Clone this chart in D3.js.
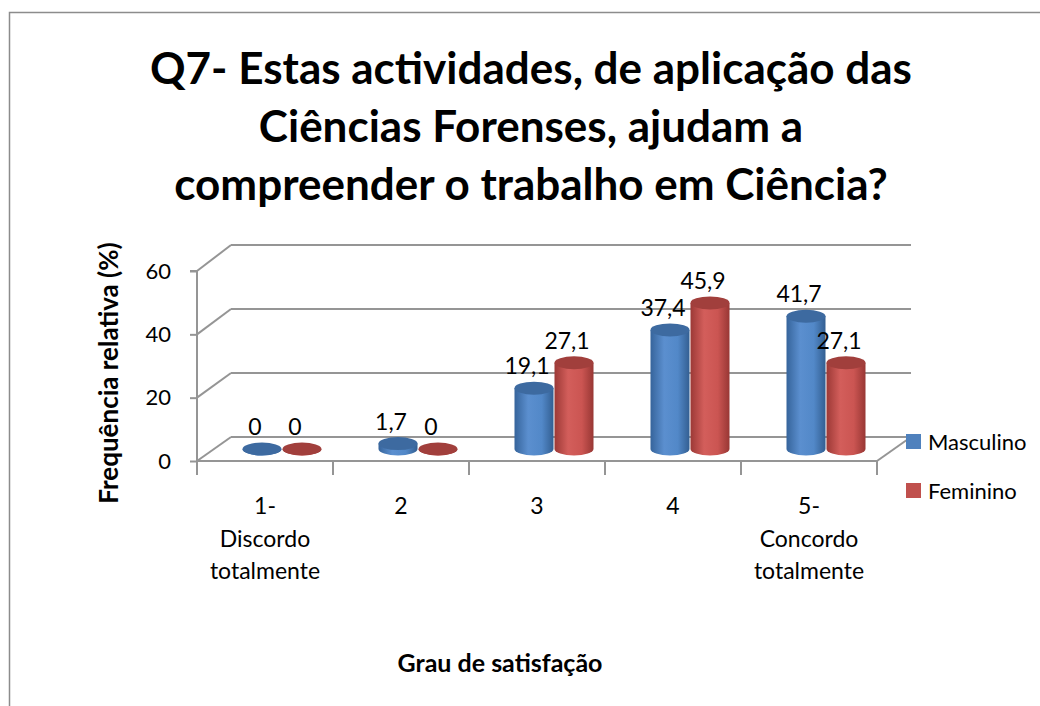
<!DOCTYPE html>
<html>
<head>
<meta charset="utf-8">
<script src="https://cdn.jsdelivr.net/npm/d3@7"></script>
<style>
  body { margin: 0; background: #fff; }
  svg { display: block; font-family: Lato, "Open Sans", sans-serif; }
</style>
</head>
<body>
<svg width="1040" height="706"></svg>
<script>
const titleLines = ["Q7- Estas actividades, de aplicação das", "Ciências Forenses, ajudam a", "compreender o trabalho em Ciência?"];
const categories = ["1- Discordo totalmente", "2", "3", "4", "5- Concordo totalmente"];
const categoryLines = [["1-", "Discordo", "totalmente"], ["2"], ["3"], ["4"], ["5-", "Concordo", "totalmente"]];
const seriesNames = ["Masculino", "Feminino"];
const masculino = [0, 1.7, 19.1, 37.4, 41.7];
const feminino = [0, 0, 27.1, 45.9, 27.1];
const yTicks = [0, 20, 40, 60];
const yTitle = "Frequência relativa (%)";
const xTitle = "Grau de satisfação";

const svg = d3.select("svg");

// outer frame
svg.append("rect")
  .attr("x", 9.5).attr("y", 12.5)
  .attr("width", 1100).attr("height", 800)
  .attr("fill", "none").attr("stroke", "#8c8c8c").attr("stroke-width", 1.5);

// title
svg.append("text")
  .attr("text-anchor", "middle")
  .attr("font-weight", "bold")
  .attr("font-size", "44px")
  .selectAll("tspan")
  .data(titleLines)
  .enter().append("tspan")
  .attr("x", 531)
  .attr("y", (d, i) => 84 + i * 58)
  .text(d => d);

const depth = {dx: 34, dy: -24};
const front = {left: 197, right: 877};

const x = d3.scaleBand().domain(categories).range([front.left, front.right]);
const yFront = d3.scaleLinear().domain([0, 60]).range([461, 271]);
const yBack = d3.scaleLinear().domain([0, 60]).range([437, 245]);
const yMid = d3.scaleLinear().domain([0, 60]).range([449, 258]);
const color = d3.scaleOrdinal().domain(seriesNames).range(["#4f81bd", "#c0504d"]);
const gridColor = "#959595";

const grid = svg.append("g").attr("stroke", gridColor).attr("stroke-width", 2).attr("fill", "none");

// back wall gridlines + side-wall diagonals
yTicks.forEach(t => {
  grid.append("line")
    .attr("x1", front.left + depth.dx).attr("x2", front.right + depth.dx)
    .attr("y1", yBack(t)).attr("y2", yBack(t));
  grid.append("line")
    .attr("x1", front.left).attr("y1", yFront(t))
    .attr("x2", front.left + depth.dx).attr("y2", yBack(t));
});
// floor right edge
grid.append("line")
  .attr("x1", front.right).attr("y1", yFront(0))
  .attr("x2", front.right + depth.dx).attr("y2", yBack(0));

// y axis
const yAxis = svg.append("g")
  .attr("transform", `translate(${front.left},0)`)
  .call(d3.axisLeft(yFront).tickValues(yTicks).tickSize(7).tickPadding(19));
yAxis.selectAll("line, path").attr("stroke", gridColor).attr("stroke-width", 2);
yAxis.select(".domain").attr("d", `M-7,${yFront(60)}H0V${yFront(0)}`);
yAxis.selectAll("text").attr("font-size", "22px").attr("font-family", "Lato, sans-serif").attr("fill", "#000");

// x axis
const xAxis = svg.append("g")
  .attr("transform", `translate(0,${yFront(0)})`)
  .call(d3.axisBottom(x).tickSize(14).tickFormat(""));
xAxis.selectAll(".tick line").attr("transform", d => `translate(${x.bandwidth() / 2},0)`);
xAxis.selectAll("line, path").attr("stroke", gridColor).attr("stroke-width", 2);
xAxis.select(".domain").attr("d", `M${front.left},0H${front.right}`);
xAxis.append("line").attr("x1", front.left).attr("x2", front.left).attr("y1", 0).attr("y2", 14)
  .attr("stroke", gridColor).attr("stroke-width", 2);

// category labels
svg.append("g").selectAll("text")
  .data(categories)
  .enter().append("text")
  .attr("text-anchor", "middle")
  .attr("font-size", "23px")
  .each(function (d, i) {
    d3.select(this).selectAll("tspan")
      .data(categoryLines[i])
      .enter().append("tspan")
      .attr("x", x(d) + x.bandwidth() / 2)
      .attr("y", (l, j) => 514 + j * 32.5)
      .text(l => l);
  });

// gradients for cylinders
const defs = svg.append("defs");
const shades = {
  Masculino: ["#36649b", "#5b8fcf", "#5288c8", "#335f92"],
  Feminino: ["#9c3936", "#d35e5b", "#cb5552", "#983734"]
};
seriesNames.forEach(s => {
  const g = defs.append("linearGradient").attr("id", "grad-" + s).attr("x1", 0).attr("x2", 1).attr("y1", 0).attr("y2", 0);
  g.append("stop").attr("offset", "0%").attr("stop-color", shades[s][0]);
  g.append("stop").attr("offset", "35%").attr("stop-color", shades[s][1]);
  g.append("stop").attr("offset", "70%").attr("stop-color", shades[s][2]);
  g.append("stop").attr("offset", "100%").attr("stop-color", shades[s][3]);
});
const topColor = {Masculino: "#3d6aa0", Feminino: "#a13f3c"};

const inner = d3.scaleBand().domain(seriesNames).range([0, 40 * 2]);
const rx = 19.5, ry = 6.5;
const values = {Masculino: masculino, Feminino: feminino};

const bars = [];
categories.forEach((c, i) => {
  seriesNames.forEach(s => {
    bars.push({cat: c, series: s, value: values[s][i]});
  });
});

const barG = svg.append("g");
bars.forEach(b => {
  const mid = x(b.cat) + x.bandwidth() / 2 + depth.dx / 2;
  const cx = mid - 40 + inner(b.series) + inner.bandwidth() / 2;
  const yb = yMid(0), yt = yMid(b.value);
  b.cx = cx; b.yt = yt;
  const body = `M${cx - rx},${yt}V${yb}A${rx},${ry} 0 0 0 ${cx + rx},${yb}V${yt}Z`;
  barG.append("path").attr("d", body).attr("fill", `url(#grad-${b.series})`);
  barG.append("ellipse")
    .attr("cx", cx).attr("cy", yt).attr("rx", rx).attr("ry", ry)
    .attr("fill", topColor[b.series]);
});

// data labels
svg.append("g").selectAll("text")
  .data(bars)
  .enter().append("text")
  .attr("x", d => d.cx - 7)
  .attr("y", d => d.yt - 14)
  .attr("text-anchor", "middle")
  .attr("font-size", "23px")
  .text(d => String(d.value).replace(".", ","));

// legend
const legend = svg.append("g").selectAll("g")
  .data(seriesNames)
  .enter().append("g")
  .attr("transform", (d, i) => `translate(906,${434 + i * 49})`);
legend.append("rect").attr("width", 15).attr("height", 15).attr("fill", d => color(d));
legend.append("text").attr("x", 22).attr("y", 16).attr("font-size", "22px").text(d => d);

// axis titles
svg.append("text")
  .attr("transform", "translate(118,373) rotate(-90)")
  .attr("text-anchor", "middle")
  .attr("font-weight", "bold")
  .attr("font-size", "26px")
  .text(yTitle);

svg.append("text")
  .attr("x", 500).attr("y", 672)
  .attr("text-anchor", "middle")
  .attr("font-weight", "bold")
  .attr("font-size", "25px")
  .text(xTitle);
</script>
</body>
</html>
